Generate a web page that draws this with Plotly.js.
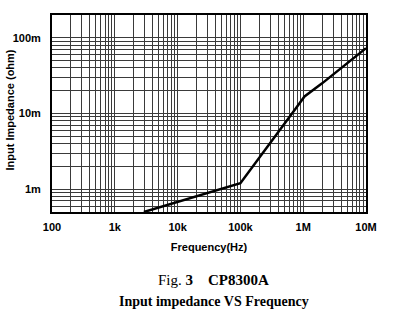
<!DOCTYPE html>
<html>
<head>
<meta charset="utf-8">
<script src="https://cdn.plot.ly/plotly-3.0.1.min.js"></script>
<style>html,body{margin:0;padding:0;background:#fff;}#chart{width:394px;height:328px;}</style>
</head>
<body>
<div id="chart"></div>
<script>
// Data (impedance in "m" units as labelled)
var frequencyHz = [2900, 100000, 750000, 1050000, 2000000, 4000000, 10000000];
var impedance = [0.5, 1.2, 11.5, 16.8, 25, 40, 73];
var xTickVals = [100, 1000, 10000, 100000, 1000000, 10000000];
var xTickText = ["100", "1k", "10k", "100k", "1M", "10M"];
var yTickVals = [1, 10, 100];
var yTickText = ["1m", "10m", "100m"];

function minorTicks(lo, hi) {
  var out = [];
  for (var d = lo; d < hi; d *= 10) {
    for (var k = 2; k <= 9; k++) out.push(d * k);
  }
  return out;
}

var gridCol = '#3a3a3a';
var tickFont = {family: 'Liberation Sans, Arial, sans-serif', size: 11, color: '#000', weight: 'bold'};

var trace = {
  x: frequencyHz, y: impedance, type: 'scatter', mode: 'lines',
  line: {color: '#000', width: 2.5}, hoverinfo: 'none', cliponaxis: true
};

var layout = {
  width: 394, height: 328,
  margin: {l: 52, r: 28, t: 15, b: 116},
  paper_bgcolor: '#fff', plot_bgcolor: '#fff',
  showlegend: false,
  xaxis: {
    type: 'log', range: [2, 7],
    tickmode: 'array', tickvals: xTickVals, ticktext: xTickText,
    tickfont: tickFont, ticks: 'outside', ticklen: 4, tickcolor: 'rgba(0,0,0,0)',
    showgrid: true, gridcolor: gridCol, gridwidth: 1,
    minor: {tickmode: 'array', tickvals: minorTicks(100, 10000000), showgrid: true, gridcolor: gridCol, gridwidth: 1, ticks: ''},
    showline: true, linecolor: '#000', linewidth: 2, mirror: true,
    zeroline: false,
    title: {text: 'Frequency(Hz)', font: {family: 'Liberation Sans, Arial, sans-serif', size: 11, color: '#000', weight: 'bold'}, standoff: 11}
  },
  yaxis: {
    type: 'log', range: [Math.log10(0.5), Math.log10(200)],
    tickmode: 'array', tickvals: yTickVals, ticktext: yTickText,
    tickfont: tickFont, ticks: 'outside', ticklen: 7, tickcolor: 'rgba(0,0,0,0)',
    showgrid: true, gridcolor: gridCol, gridwidth: 1,
    minor: {tickmode: 'array', tickvals: minorTicks(0.1, 1000).filter(function(v){return v > 0.45 && v < 210;}), showgrid: true, gridcolor: gridCol, gridwidth: 1, ticks: ''},
    showline: true, linecolor: '#000', linewidth: 2, mirror: true,
    zeroline: false
  },
  annotations: [
    {xref: 'paper', yref: 'paper', x: -0.134, y: 0.52, xanchor: 'center', yanchor: 'middle', showarrow: false, textangle: -90,
     text: '<b>Input Impedance (ohm)</b>', font: {family: 'Liberation Sans, Arial, sans-serif', size: 11, color: '#000'}},
    {xref: 'paper', yref: 'paper', x: 0.515, y: -0.345, xanchor: 'center', yanchor: 'middle', showarrow: false,
     text: 'Fig. <b>3</b>    <b>CP8300A</b>', font: {family: 'Liberation Serif, Times New Roman, serif', size: 15, color: '#000'}},
    {xref: 'paper', yref: 'paper', x: 0.515, y: -0.455, xanchor: 'center', yanchor: 'middle', showarrow: false,
     text: '<b>Input impedance VS Frequency</b>', font: {family: 'Liberation Serif, Times New Roman, serif', size: 14, color: '#000'}}
  ]
};

Plotly.newPlot('chart', [trace], layout, {staticPlot: true, displayModeBar: false});
</script>
</body>
</html>
